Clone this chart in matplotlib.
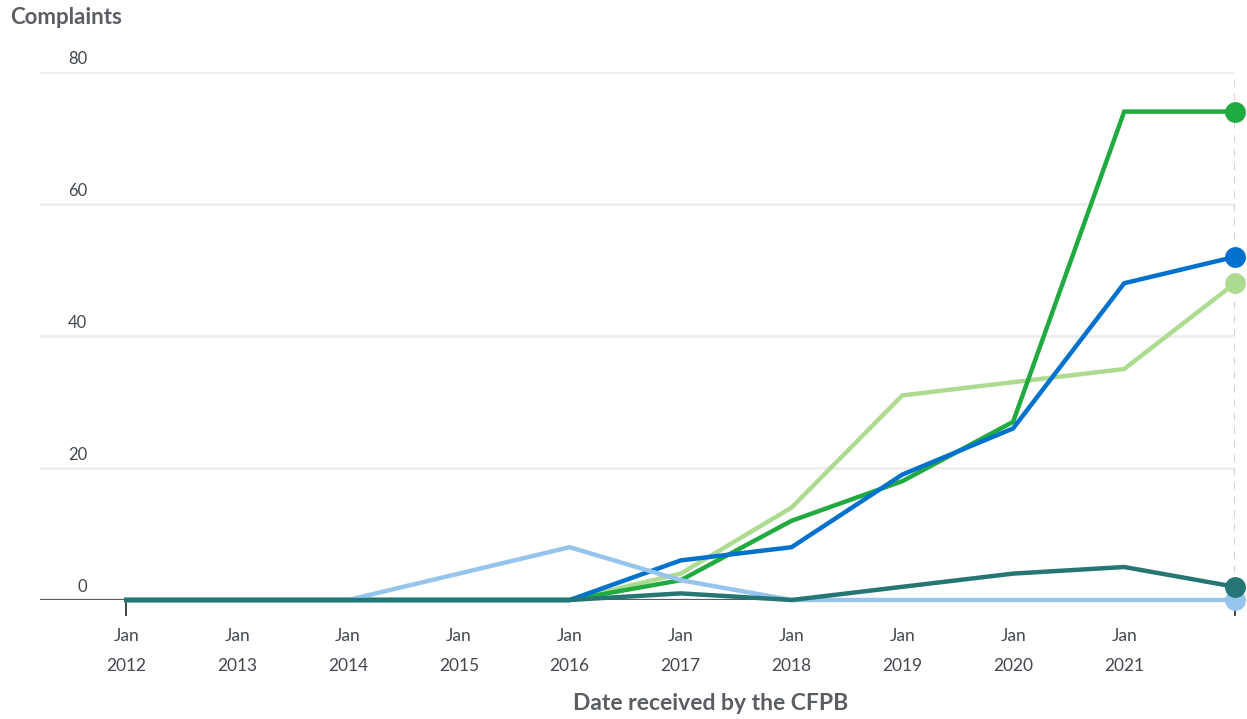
import matplotlib
matplotlib.use("Agg")
import matplotlib.pyplot as plt
import pandas as pd

dates = ["2012-01-01", "2013-01-01", "2014-01-01", "2015-01-01", "2016-01-01",
         "2017-01-01", "2018-01-01", "2019-01-01", "2020-01-01", "2021-01-01",
         "2022-01-01"]
series_light_green = [0, 0, 0, 0, 0, 4, 14, 31, 33, 35, 48]
series_green = [0, 0, 0, 0, 0, 3, 12, 18, 27, 74, 74]
series_blue = [0, 0, 0, 0, 0, 6, 8, 19, 26, 48, 52]
series_light_blue = [0, 0, 0, 4, 8, 3, 0, 0, 0, 0, 0]
series_teal = [0, 0, 0, 0, 0, 1, 0, 2, 4, 5, 2]
tick_years = ["2012", "2013", "2014", "2015", "2016", "2017", "2018", "2019", "2020", "2021"]
y_ticks = [0, 20, 40, 60, 80]

x = pd.to_datetime(dates)

W, H = 1247, 719
fig = plt.figure(figsize=(W / 100, H / 100), dpi=100)
ax = fig.add_axes([40 / W, (H - 600) / H, (1235 - 40) / W, (600 - 72) / H])

FONT = ["Lato", "DejaVu Sans"]
TXT = "#43484e"

for s, c, z in [(series_light_green, "#addc91", 3), (series_green, "#20aa3f", 4),
                (series_blue, "#0072ce", 5), (series_light_blue, "#96c4ed", 6),
                (series_teal, "#257675", 7)]:
    ax.plot(x, s, color=c, lw=3.2, zorder=z, clip_on=False, solid_joinstyle="miter")
    ax.plot(x[-1:], s[-1:], "o", color=c, ms=15, mew=0, zorder=z, clip_on=False)

xmin = x[0] - pd.Timedelta(days=int(0.78 * 365))
ax.set_xlim(xmin, x[-1])
ax.set_ylim(0, 80)

for t in y_ticks:
    if t > 0:
        ax.axhline(t, color="#eeeeee", lw=2, zorder=1)
    ax.annotate(str(t), xy=(0, t), xycoords=("axes fraction", "data"),
                xytext=(34, 9), textcoords="offset points", ha="right", va="center",
                fontsize=12, color=TXT, family=FONT)

ax.axhline(0, color="#5a5d61", lw=1.6, zorder=2)
ax.axvline(x[-1], color="#cccccc", lw=2, ls=(0, (2.5, 2.5)), zorder=1)

for sp in ax.spines.values():
    sp.set_visible(False)
ax.set_xticks([])
ax.set_yticks([])

for yr in tick_years:
    xd = pd.Timestamp(f"{yr}-01-01")
    ax.annotate("Jan", xy=(xd, 0), xycoords=("data", "data"), xytext=(0, -26),
                textcoords="offset points", ha="center", va="center",
                fontsize=12.5, color=TXT, family=FONT, annotation_clip=False)
    ax.annotate(yr, xy=(xd, 0), xycoords=("data", "data"), xytext=(0, -47.5),
                textcoords="offset points", ha="center", va="center",
                fontsize=12.5, color=TXT, family=FONT, annotation_clip=False)

# small ticks
for xd in [x[0], x[-1]]:
    ax.plot([xd, xd], [0, -2.3], color="#333333", lw=1.3, clip_on=False, zorder=1)

fig.text(10 / W, 1 - 17 / H, "Complaints", ha="left", va="center", fontsize=16,
         fontweight="bold", color="#5a5d61", family=FONT)
fig.text(711 / W, 1 - 703 / H, "Date received by the CFPB", ha="center", va="center",
         fontsize=16.5, fontweight="bold", color="#5a5d61", family=FONT)

fig.savefig("out.png", dpi=100)
